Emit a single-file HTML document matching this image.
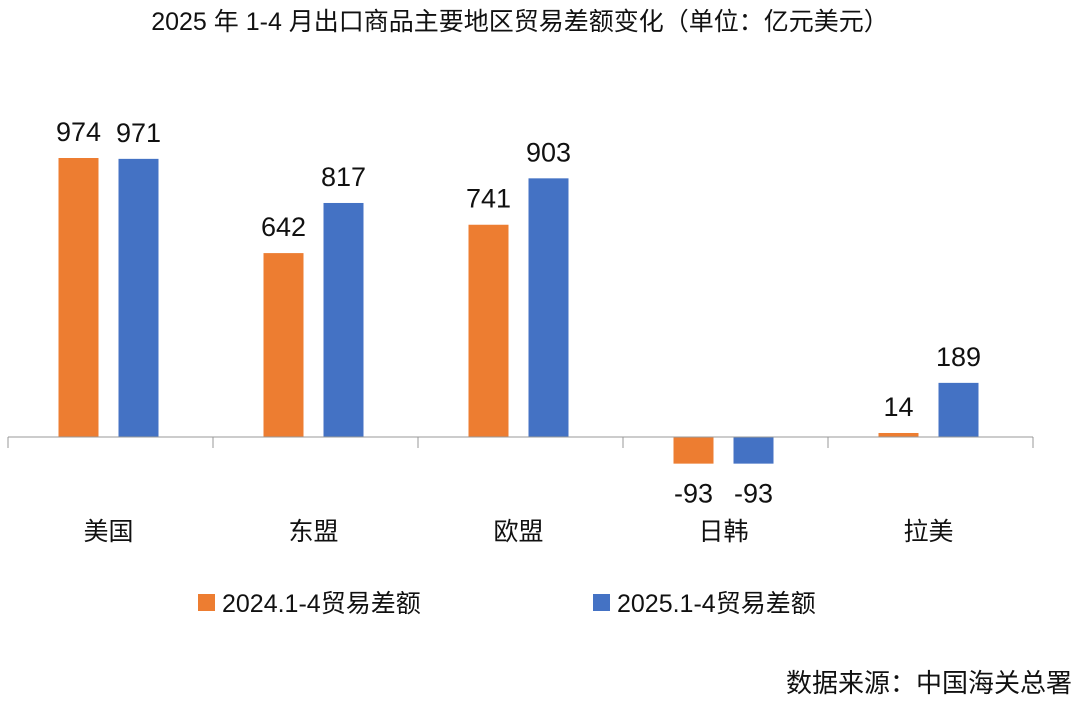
<!DOCTYPE html>
<html><head><meta charset="utf-8">
<style>
body{margin:0;background:#fff;}
svg{display:block;font-family:"Liberation Sans","Noto Sans CJK SC",sans-serif;}
</style></head>
<body>
<svg id="chart" width="1080" height="702" viewBox="0 0 1080 702">
<text x="520" y="30" font-size="25" text-anchor="middle" fill="#111">2025 年 1-4 月出口商品主要地区贸易差额变化（单位：亿元美元）</text>
<g id="plot"></g>
<g>
<rect x="198" y="594" width="17" height="17" fill="#ED7D31"/>
<text x="222" y="612" font-size="25" fill="#111">2024.1-4贸易差额</text>
<rect x="593" y="594" width="17" height="17" fill="#4472C4"/>
<text x="617" y="612" font-size="25" fill="#111">2025.1-4贸易差额</text>
</g>
<text x="1072" y="692" font-size="26" text-anchor="end" fill="#111">数据来源：中国海关总署</text>
</svg>
<script>
const categories=["美国","东盟","欧盟","日韩","拉美"];
const values2024=[974,642,741,-93,14];
const values2025=[971,817,903,-93,189];
const ns="http://www.w3.org/2000/svg";
const g=document.getElementById("plot");
const x0=8,x1=1033,zeroY=437,scale=279/974;
const bw=(x1-x0)/categories.length;
function yPos(v){return zeroY-v*scale;}
function xCenter(i){return x0+bw*(i+0.5)-2;}
function mk(tag,attrs){const e=document.createElementNS(ns,tag);for(const k in attrs)e.setAttribute(k,attrs[k]);g.appendChild(e);return e;}
const series=[{vals:values2024,color:"#ED7D31",off:-30,key:"2024"},{vals:values2025,color:"#4472C4",off:30,key:"2025"}];
categories.forEach((c,i)=>{
  series.forEach(s=>{
    const v=s.vals[i];const cx=xCenter(i)+s.off;
    const y=Math.min(yPos(v),zeroY),h=Math.abs(yPos(v)-zeroY);
    const r=mk("rect",{x:cx-20,y:y,width:40,height:h,fill:s.color});
    
    
    const ty=v>=0?yPos(v)-17:yPos(v)+39;
    const t=mk("text",{x:cx,y:ty,"font-size":27,"text-anchor":"middle",fill:"#111"});
    t.textContent=v;
    
    
  });
  const cl=mk("text",{x:xCenter(i),y:540,"font-size":25,"text-anchor":"middle",fill:"#111"});
  cl.textContent=c;
  
  
});
const ax=mk("line",{x1:x0,y1:zeroY,x2:x1,y2:zeroY,stroke:"#999","stroke-width":1});


for(let i=0;i<=categories.length;i++){
  const xx=x0+bw*i;
  const tk=mk("line",{x1:xx,y1:zeroY,x2:xx,y2:zeroY+11,stroke:"#999","stroke-width":1});
  
  
}
</script>
</body></html>
